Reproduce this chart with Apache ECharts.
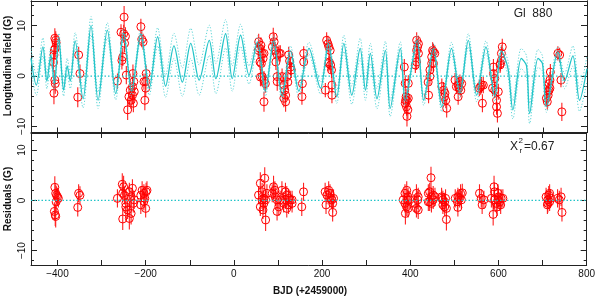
<!DOCTYPE html>
<html><head><meta charset="utf-8">
<script src="https://cdn.jsdelivr.net/npm/echarts@6/dist/echarts.min.js"></script>
<style>html,body{margin:0;padding:0;background:#fff}#c{width:598px;height:300px}</style>
</head><body><div id="c"></div>
<script>
// ---- model (GP fit) ----
const modelT = [-460,-448,-433,-424,-415,-407,-397,-386,-378,-371,-360,-342,-324,-308,-287,-268,-250,-232,-211,-192,-173,-155,-136,-117,-98,-79,-56,-41,-19,-4,15,34,53,71,90,109,128,147,170,196,214,233,249,267,286,298,309,324,343,354,377,388,415,430,452,471,493,512,531,550,571,591,606,621,632,651,663,670,689,699,708,734,749,768,783,800];
const modelB = [3.5,-1.8,5.8,-1.0,4.2,-1.5,7.5,-2.8,2.0,-1.0,7.0,-4.5,10.0,-4.8,9.1,-3.5,8.5,-3.0,8.4,-2.5,7.8,-2.0,6.0,-1.2,6.5,-0.8,7.1,-0.5,8.4,-0.5,8.1,0.2,6.8,-3.0,7.0,-4.0,5.0,-3.0,5.5,-2.4,6.5,-4.1,6.5,-3.8,5.5,-2.8,4.5,-4.5,5.1,-6.4,5.5,-4.8,7.1,-4.8,5.5,-6.1,5.5,-3.4,7.1,-3.8,5.8,-4.0,5.0,1.5,-6.7,3.5,2.0,-7.4,3.5,2.5,-6.0,4.8,-1.0,4.0,-4.8,1.5];
const modelSig = [2.0,2.0,1.8,1.5,1.5,1.2,1.0,1.2,1.5,1.5,1.6,1.8,1.8,1.6,1.5,1.2,1.0,1.0,1.0,1.3,1.8,2.2,2.5,2.8,3.0,3.0,3.0,3.0,2.8,2.5,2.2,1.8,1.2,1.0,1.0,1.0,1.0,1.2,1.2,1.2,1.0,1.3,1.6,1.8,2.0,2.0,2.0,2.0,1.8,1.6,1.3,1.0,1.0,1.0,1.0,1.0,1.2,1.0,1.3,1.3,1.2,1.0,1.0,1.5,1.8,2.0,2.0,2.0,1.8,1.5,1.2,1.0,1.5,2.0,2.2,2.5];

// ---- observations (top panel) ----
const obsT = [-406,-404,-405,-407,-408,-409,-406,-405,-408,-403,
 -352,-349,-354,
 -264,-256,-252,-254,-249,-250,-246,-248,-244,-241,-238,-235,-233,-230,-229,-228,-227,-230,-226,
 -211,-209,-206,-204,-200,-200,-202,-199,
 56,58,55,61,64,59,62,68,66,64,68,71,68,60,
 89,91,87,94,98,95,102,98,98,105,109,113,115,117,113,117,120,124,126,128,130,122,
 158,158,155,154,
 207,210,213,215,216,219,221,222,222,218,215,
 386,388,395,390,392,388,391,394,392,395,389,
 414,418,416,414,418,411,414,
 441,440,444,444,448,448,452,450,455,452,
 471,475,478,480,482,477,
 501,508,512,510,508,516,504,514,
 556,561,559,563,565,
 588,588,586,591,595,595,597,603,606,608,604,591,599,606,
 710,712,714,716,716,717,714,712,708,
 734,738,741,743];
const obsB = [7.5,7.1,5.5,5.2,4.2,2.7,-0.8,-1.5,-3.4,6.6,
 4.2,0.5,-4.2,
 -1.0,8.7,3.8,3.1,11.7,8.4,7.9,6.5,0.2,-6.7,-4.1,-2.8,-4.8,-2.1,0.5,-5.4,-1.1,-3.8,-3.1,
 9.8,7.3,6.8,-1.1,-1.1,-2.4,-4.8,0.5,
 6.8,5.5,5.1,6.1,4.5,2.8,2.5,4.5,3.5,-0.1,-0.8,-1.5,-5.1,-0.2,
 7.8,6.8,5.8,5.1,4.2,2.8,4.5,-0.1,-1.1,4.5,-0.1,-1.8,-2.8,-3.8,-4.4,-5.1,-0.1,4.2,3.0,1.8,1.2,-1.2,
 4.5,2.8,-1.5,-4.1,
 -2.8,7.1,6.4,5.8,2.8,2.2,1.2,-1.8,-3.8,5.1,2.5,
 1.8,-1.45,-1.45,-4.1,-4.8,-5.4,-6.1,-6.7,-8.0,-4.4,-4.8,
 7.1,6.4,5.8,5.1,4.5,2.2,2.8,
 -3.8,-1.2,-0.1,1.2,2.5,3.8,4.8,5.1,4.5,2.5,
 -2.1,-2.8,-3.4,-4.8,-6.4,-4.1,
 -0.8,-1.8,-1.1,-2.4,-4.1,-1.5,-2.1,-2.8,
 -2.4,-1.8,-2.1,-5.4,-1.8,
 1.8,0.5,-2.4,-2.8,-4.8,-6.1,-7.4,2.2,4.5,5.8,2.5,-0.5,-3.1,3.1,
 -5.1,-3.8,-2.8,-2.4,-0.8,0.8,-1.5,-3.1,-4.4,
 4.5,4.2,-0.8,-7.1];
const obsErr = [2.0,1.8,1.8,1.8,1.8,2.0,2.0,2.0,2.2,1.8,
 1.6,1.8,2.0,
 1.5,1.6,1.8,1.8,2.2,1.8,1.8,1.8,1.8,2.0,1.8,1.8,1.8,1.8,1.8,1.8,1.6,1.8,1.8,
 1.6,1.6,1.6,1.6,1.6,1.6,2.0,1.6,
 1.6,1.6,1.6,1.6,1.6,1.6,1.6,1.6,1.6,1.8,1.8,1.8,2.0,1.8,
 1.8,1.6,1.6,1.6,1.6,1.6,1.6,1.8,1.8,1.6,1.6,1.6,1.6,1.6,1.8,2.0,1.6,1.6,1.6,1.6,1.6,1.6,
 1.4,1.4,1.6,1.6,
 1.4,1.6,1.6,1.6,1.6,1.6,1.6,1.6,1.6,1.6,1.6,
 1.6,1.6,1.6,1.6,1.6,1.8,1.8,1.8,2.0,1.6,1.6,
 1.6,1.6,1.6,1.6,1.6,1.6,1.6,
 1.6,1.6,1.6,1.6,1.6,1.6,1.6,1.6,1.6,1.6,
 1.6,1.6,1.6,1.6,1.8,1.6,
 1.4,1.4,1.4,1.4,1.6,1.4,1.4,1.4,
 1.6,1.6,1.6,1.8,1.6,
 1.6,1.6,1.6,1.6,1.6,1.6,1.8,1.6,1.6,1.6,1.6,1.6,1.6,1.6,
 1.6,1.6,1.6,1.6,1.6,1.6,1.6,1.6,1.6,
 1.4,1.4,1.4,1.8];

// ---- residuals (bottom panel) ----
const resT = [-406,-404,-402,-400,-398,-403,-407,-405,-404,
 -352,-349,-354,
 -264,-253,-250,-252,-248,-252,-245,-241,-237,-233,-233,-230,-228,-237,-245,-226,
 -211,-208,-204,-202,-199,-197,-200,-211,-204,
 60,70,56,64,68,60,66,72,72,75,64,68,
 90,87,93,94,98,102,98,109,117,120,124,128,132,124,113,105,117,120,132,
 158,154,
 207,211,215,218,221,222,224,209,226,224,
 388,392,384,388,395,394,389,395,399,392,
 414,418,417,414,418,411,
 447,441,444,448,452,444,441,452,448,456,
 471,474,478,474,478,482,482,471,480,
 502,508,514,512,516,508,507,518,
 557,561,563,567,
 584,590,591,588,595,599,600,603,606,610,597,605,591,599,
 708,712,714,716,718,712,716,711,
 734,742,738,744];
const resV = [2.6,1.4,1.0,0.7,0.4,-0.3,-2.2,-2.9,-3.2,
 1.4,1.0,-1.4,
 0.4,3.2,2.7,1.4,1.0,-3.7,-0.6,-1.9,1.7,0.7,-2.6,2.4,-0.6,-3.6,-1.3,0.1,
 1.0,2.0,1.4,0.4,1.7,2.0,-1.6,-0.9,-0.2,
 3.4,4.4,1.05,1.7,0.4,-1.3,-1.9,0.1,-3.9,1.4,0.1,-0.6,
 2.7,1.4,2.0,0.7,0.1,-1.3,-2.2,2.0,1.7,1.05,0.4,0.1,-0.6,-0.9,-0.6,0.1,0.1,-1.6,0.1,
 1.7,-1.3,
 1.7,1.05,2.0,1.4,0.4,0.1,-0.6,-0.9,0.4,-2.4,
 1.4,2.0,0.1,-0.6,0.7,0.1,-2.6,-1.6,0.1,-1.3,
 1.4,0.7,0.1,-1.6,-1.9,-0.6,
 4.5,1.4,1.7,0.7,1.05,-0.3,-0.3,0.1,-0.6,0.7,
 0.7,0.1,-0.3,-0.9,-1.3,-1.6,-3.8,0.4,0.4,
 0.4,0.7,1.4,0.4,0.1,-1.4,-0.3,1.5,
 1.4,0.4,-0.9,0.1,
 0.4,2.7,1.7,-2.8,-0.6,0.1,0.7,-0.3,0.4,0.4,-1.3,-0.9,0.1,1.4,
 0.7,0.1,1.05,-0.3,0.4,-0.6,1.4,-0.9,
 0.4,0.7,0.1,-2.4];
const resErr = resT.map((t, i) => (Math.abs(resV[i]) > 2.5 ? 2.2 : 1.8));

// ---- axes ticks ----
const xTicks = [-400,-300,-200,-100,0,100,200,300,400,500,600,700,800];
const xLabels = [-400,-200,0,200,400,600,800];
const yMajor = [-10,0,10];
const yMinorTop = [-10,-8,-6,-4,-2,0,2,4,6,8,10,12,14];
const yMinorBot = [-12,-10,-8,-6,-4,-2,0,2,4,6,8,10,12];

const CYAN = '#22c4c8', CYAN_LT = '#5fd6d8', RED = '#ff0000', INK = '#222';
const FONT = 'Liberation Sans';

function xAx(grid, pos, labels) {
  return {type:'value', gridIndex:grid, position:pos, min:-460, max:800,
    axisLine:{show:true, onZero:false, lineStyle:{color:INK, width:1}},
    axisTick:{show:true, inside:true, length:5, customValues:xTicks, lineStyle:{color:INK}},
    axisLabel:labels ? {show:true, customValues:xLabels, margin:4, fontSize:10, color:'#111', fontFamily:FONT,
      formatter:v => (v < 0 ? '\u2212' + Math.abs(v) : String(v))} : {show:false},
    splitLine:{show:false}};
}
function yAx(grid, pos, min, max, ticks, len, labels) {
  return {type:'value', gridIndex:grid, position:pos, min:min, max:max,
    axisLine:{show:true, onZero:false, lineStyle:{color:INK, width:1}},
    axisTick:{show:true, inside:true, length:len, customValues:ticks, lineStyle:{color:INK}},
    axisLabel:labels ? {show:true, customValues:yMajor, rotate:90, margin:4, fontSize:10, color:'#111', fontFamily:FONT,
      formatter:v => (v < 0 ? '\u2212' + Math.abs(v) : String(v))} : {show:false},
    splitLine:{show:false}};
}

const errRender = (params, api) => {
  const x = api.value(0), y = api.value(1), e = api.value(2);
  const a = api.coord([x, y - e]), b = api.coord([x, y + e]);
  return {type:'line', shape:{x1:a[0], y1:a[1], x2:b[0], y2:b[1]},
    style:{stroke:'#ff2020', fill:null, lineWidth:1.1, opacity:1}};
};

const topMin = -11.2, topMax = 14.9, botMin = -12.86, botMax = 13.4;

function lineSeries(xi, yi, data, color, width, type, smooth) {
  return {type:'line', xAxisIndex:xi, yAxisIndex:yi, data:data, showSymbol:false, symbol:'none', silent:true,
    smooth:smooth || false, color:color, itemStyle:{color:color},
    lineStyle:{color:color, width:width, type:type}};
}
function errSeries(xi, yi, data) {
  return {type:'custom', xAxisIndex:xi, yAxisIndex:yi, renderItem:errRender, clip:true, silent:true,
    color:RED, itemStyle:{color:RED}, data:data};
}
function ptSeries(xi, yi, data) {
  return {type:'scatter', xAxisIndex:xi, yAxisIndex:yi, symbol:'circle', symbolSize:8, silent:true,
    color:RED, itemStyle:{color:'rgba(255,255,255,0)', borderColor:RED, borderWidth:1, opacity:1}, data:data};
}

const option = {
  animation:false,
  backgroundColor:'#fff',
  grid:[
    {left:31, right:11, top:1, height:131.5},
    {left:31, right:11, top:133, height:132}
  ],
  xAxis:[xAx(0,'bottom',false), xAx(0,'top',false), xAx(1,'bottom',true), xAx(1,'top',false)],
  yAxis:[
    yAx(0,'left',topMin,topMax,yMajor,6,true),
    yAx(0,'left',topMin,topMax,yMinorTop,3,false),
    yAx(0,'right',topMin,topMax,yMajor,6,false),
    yAx(0,'right',topMin,topMax,yMinorTop,3,false),
    yAx(1,'left',botMin,botMax,yMajor,6,true),
    yAx(1,'left',botMin,botMax,yMinorBot,3,false),
    yAx(1,'right',botMin,botMax,yMajor,6,false),
    yAx(1,'right',botMin,botMax,yMinorBot,3,false)
  ],
  series:[
    lineSeries(0, 0, [[-460,0],[800,0]], CYAN, 1.2, [1.5,2], false),
    lineSeries(0, 0, modelT.map((t,i)=>[t, modelB[i]+modelSig[i]]), CYAN_LT, 1, [1.2,1.8], 0.3),
    lineSeries(0, 0, modelT.map((t,i)=>[t, modelB[i]-modelSig[i]]), CYAN_LT, 1, [1.2,1.8], 0.3),
    lineSeries(0, 0, modelT.map((t,i)=>[t, modelB[i]]), CYAN, 1.3, 'solid', 0.3),
    errSeries(0, 0, obsT.map((t,i)=>[t, obsB[i], obsErr[i]])),
    ptSeries(0, 0, obsT.map((t,i)=>[t, obsB[i]])),
    lineSeries(2, 4, [[-460,0],[800,0]], CYAN, 1.2, [1.5,2], false),
    errSeries(2, 4, resT.map((t,i)=>[t, resV[i], resErr[i]])),
    ptSeries(2, 4, resT.map((t,i)=>[t, resV[i]]))
  ],
  graphic:[
    {type:'text', x:8, y:66, rotation:Math.PI/2, style:{text:'Longitudinal field (G)', font:'bold 10px "Liberation Sans"', fill:'#111', align:'center', verticalAlign:'middle'}},
    {type:'text', x:8, y:199, rotation:Math.PI/2, style:{text:'Residuals (G)', font:'bold 10px "Liberation Sans"', fill:'#111', align:'center', verticalAlign:'middle'}},
    {type:'text', x:310, y:291, style:{text:'BJD (+2459000)', font:'bold 10px "Liberation Sans"', fill:'#111', align:'center', verticalAlign:'middle'}},
    {type:'text', x:533, y:14, style:{text:'Gl  880', font:'12px "Liberation Sans"', fill:'#222', align:'center', verticalAlign:'middle'}},
    {type:'text', x:510, y:147, style:{text:'X', font:'12px "Liberation Sans"', fill:'#222', align:'left', verticalAlign:'middle'}},
    {type:'text', x:518.5, y:141, style:{text:'2', font:'8px "Liberation Sans"', fill:'#222', align:'left', verticalAlign:'middle'}},
    {type:'text', x:519.5, y:151, style:{text:'r', font:'8px "Liberation Sans"', fill:'#222', align:'left', verticalAlign:'middle'}},
    {type:'text', x:524, y:147, style:{text:'=0.67', font:'12px "Liberation Sans"', fill:'#222', align:'left', verticalAlign:'middle'}}
  ]
};
const chart = echarts.init(document.getElementById('c'), null, {renderer:'canvas'});
chart.setOption(option);
</script></body></html>
